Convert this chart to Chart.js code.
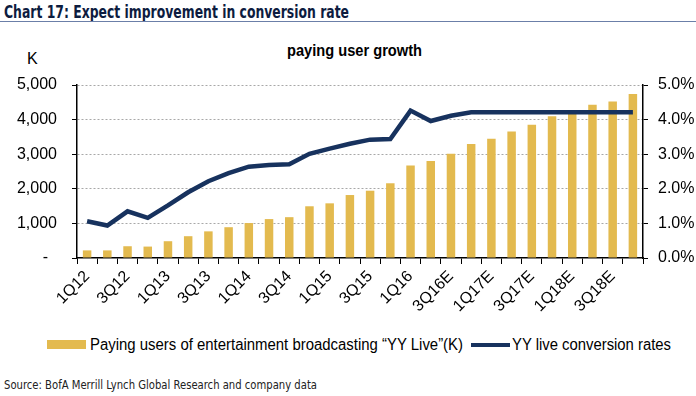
<!DOCTYPE html>
<html>
<head>
<meta charset="utf-8">
<script src="https://cdn.jsdelivr.net/npm/chart.js@4.4.0/dist/chart.umd.min.js"></script>
<style>
    html, body { margin: 0; padding: 0; background: #fff; }
    body { width: 696px; height: 396px; position: relative; overflow: hidden; font-family: "Liberation Sans", Arial, sans-serif; }
    #chart { position: absolute; left: 0; top: 0; }
    .fit { position: absolute; white-space: nowrap; transform-origin: 0 50%; }
    .title { left: 4px; top: 1px; font-family: "DejaVu Sans Condensed", "DejaVu Sans", sans-serif; font-weight: bold; font-size: 18px; color: #0d1c3f; }
    .rule { position: absolute; left: 0; top: 21px; width: 696px; height: 0; border-top: 1.5px solid #6b7fa8; }
    .subtitle { left: 287px; top: 42px; font-weight: bold; font-size: 16px; color: #000; }
    .unit { position: absolute; left: 27px; top: 50px; font-size: 16px; color: #000; }
    .legend-text { top: 336px; font-size: 16px; color: #000; }
    .swatch { position: absolute; }
    .source { left: 4px; top: 378px; font-family: "DejaVu Sans Condensed", "DejaVu Sans", sans-serif; font-size: 11.5px; color: #222; }
</style>
</head>
<body>
<div class="fit title" data-w="345">Chart 17: Expect improvement in conversion rate</div>
<div class="rule"></div>
<div class="fit subtitle" data-w="135">paying user growth</div>
<div class="unit">K</div>
<canvas id="chart" width="696" height="320"></canvas>
<div class="swatch" style="left:47px; top:340px; width:39px; height:9px; background:#e3ba4f;"></div>
<div class="fit legend-text" style="left:90px;" data-w="373">Paying users of entertainment broadcasting “YY Live”(K)</div>
<div class="swatch" style="left:471px; top:342.5px; width:39px; height:4px; background:#17325e;"></div>
<div class="fit legend-text" style="left:512px;" data-w="159">YY live conversion rates</div>
<div class="fit source" data-w="313">Source: BofA Merrill Lynch Global Research and company data</div>

<script>
// Quarters, 1Q12 .. 4Q18E
const quarters = [
    '1Q12', '2Q12', '3Q12', '4Q12',
    '1Q13', '2Q13', '3Q13', '4Q13',
    '1Q14', '2Q14', '3Q14', '4Q14',
    '1Q15', '2Q15', '3Q15', '4Q15',
    '1Q16', '2Q16', '3Q16E', '4Q16E',
    '1Q17E', '2Q17E', '3Q17E', '4Q17E',
    '1Q18E', '2Q18E', '3Q18E', '4Q18E'
];

// Paying users (K), left axis
const payingUsers = [
    220, 220, 340, 330,
    485, 630, 770, 890,
    1010, 1125, 1180, 1495,
    1580, 1820, 1945, 2160,
    2675, 2800, 3015, 3295,
    3450, 3655, 3850, 4100,
    4170, 4430, 4520, 4740
];

// Conversion rate (%), right axis
const conversionRate = [
    1.06, 0.94, 1.35, 1.16,
    1.52, 1.90, 2.22, 2.45,
    2.64, 2.69, 2.71, 3.01,
    3.16, 3.30, 3.42, 3.44,
    4.26, 3.96, 4.11, 4.21,
    4.21, 4.21, 4.21, 4.21,
    4.21, 4.21, 4.21, 4.21
];

// squeeze text boxes to the width they have in the original
document.querySelectorAll('.fit').forEach(el => {
    const w = el.getBoundingClientRect().width;
    el.style.transform = 'scaleX(' + (el.dataset.w / w) + ')';
});

const tickFont = { family: '"Liberation Sans", Arial, sans-serif', size: 16 };

new Chart(document.getElementById('chart'), {
    type: 'bar',
    data: {
        labels: quarters,
        datasets: [
            {
                type: 'line',
                label: 'YY live conversion rates',
                data: conversionRate,
                yAxisID: 'y1',
                borderColor: '#17325e',
                borderWidth: 4.5,
                pointRadius: 0,
                tension: 0,
                order: 0
            },
            {
                label: 'Paying users of entertainment broadcasting “YY Live”(K)',
                data: payingUsers,
                yAxisID: 'y',
                backgroundColor: '#e3ba4f',
                barPercentage: 0.42,
                categoryPercentage: 1.0,
                order: 1
            }
        ]
    },
    options: {
        responsive: false,
        animation: false,
        layout: { padding: { top: 85, left: 0, right: 0, bottom: 0 } },
        plugins: {
            legend: { display: false },
            tooltip: { enabled: false }
        },
        scales: {
            x: {
                afterFit(scale) { scale.height = 62; },
                border: { display: true, color: '#000', width: 1.5 },
                grid: { drawOnChartArea: false, drawTicks: true, tickLength: 6, tickColor: '#000', offset: true },
                ticks: {
                    autoSkip: false,
                    minRotation: 45,
                    maxRotation: 45,
                    padding: 3,
                    color: '#000',
                    font: tickFont,
                    callback: (v, i) => (i % 2 === 0 ? quarters[i] : '')
                }
            },
            y: {
                position: 'left',
                min: 0,
                max: 5000,
                afterFit(scale) { scale.width = 77; },
                border: { display: true, color: '#000', width: 1.5, dash: [2, 2] },
                grid: {
                    color: ctx => (ctx.tick && ctx.tick.value === 0 ? 'rgba(0,0,0,0)' : '#a8a8a8'),
                    lineWidth: 1,
                    drawTicks: true,
                    tickLength: 5,
                    tickColor: '#000',
                    tickBorderDash: []
                },
                ticks: {
                    stepSize: 1000,
                    padding: 15,
                    color: '#000',
                    font: tickFont,
                    callback: v => (v === 0 ? '-  ' : v.toLocaleString('en-US'))
                }
            },
            y1: {
                position: 'right',
                min: 0,
                max: 5,
                afterFit(scale) { scale.width = 53; },
                border: { display: true, color: '#000', width: 1.5 },
                grid: { drawOnChartArea: false, drawTicks: true, tickLength: 5, tickColor: '#000' },
                ticks: {
                    stepSize: 1,
                    padding: 10,
                    color: '#000',
                    font: tickFont,
                    callback: v => v.toFixed(1) + '%'
                }
            }
        }
    }
});
</script>
</body>
</html>
